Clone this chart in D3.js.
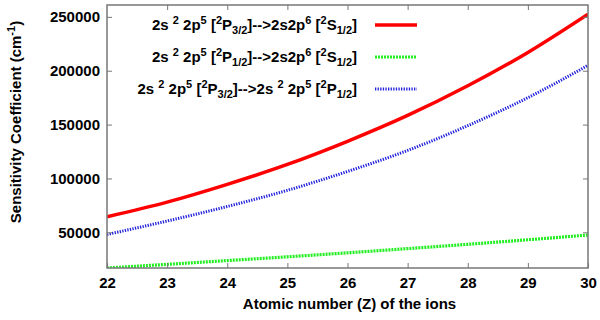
<!DOCTYPE html>
<html>
<head>
<meta charset="utf-8">
<script src="https://d3js.org/d3.v7.min.js"></script>
<style>
body { margin: 0; background: #fff; }
text { font-family: "Liberation Sans", Arial, sans-serif; font-weight: bold; fill: #000; }
</style>
</head>
<body>
<div id="chart"></div>
<script>
// atomic numbers and sensitivity coefficients (cm^-1)
var zValues = [22, 23, 24, 25, 26, 27, 28, 29, 30];
var redValues   = [64500, 78000, 94500, 113000, 134500, 158500, 186000, 217000, 252500];
var greenValues = [16900, 20300, 23800, 27300, 31000, 34900, 38900, 43100, 47500];
var blueValues  = [48000, 60500, 74000, 89000, 106500, 126000, 149000, 175000, 205000];
var xTicks = [22, 23, 24, 25, 26, 27, 28, 29, 30];
var yTicks = [50000, 100000, 150000, 200000, 250000];

// legend labels as pieces: t = normal, sup = superscript, sub = subscript
var labelRed = [["t","2s "],["sup","2"],["t"," 2p"],["sup","5"],["t"," ["],["sup","2"],["t","P"],["sub","3/2"],["t","]-->2s2p"],["sup","6"],["t"," ["],["sup","2"],["t","S"],["sub","1/2"],["t","]"]];
var labelGreen = [["t","2s "],["sup","2"],["t"," 2p"],["sup","5"],["t"," ["],["sup","2"],["t","P"],["sub","1/2"],["t","]-->2s2p"],["sup","6"],["t"," ["],["sup","2"],["t","S"],["sub","1/2"],["t","]"]];
var labelBlue = [["t","2s "],["sup","2"],["t"," 2p"],["sup","5"],["t"," ["],["sup","2"],["t","P"],["sub","3/2"],["t","]-->2s "],["sup","2"],["t"," 2p"],["sup","5"],["t"," ["],["sup","2"],["t","P"],["sub","1/2"],["t","]"]];

var series = [
  {vals: redValues, label: labelRed, color: "#ff0000", width: 3.5, dash: null},
  {vals: greenValues, label: labelGreen, color: "#22ee22", width: 3.2, dash: "2,1"},
  {vals: blueValues, label: labelBlue, color: "#2020dd", width: 3, dash: "1.3,1.3"}
];

var W = 600, H = 320;
var margin = {top: 5, right: 12, bottom: 52, left: 107};
var width = W - margin.left - margin.right,
    height = H - margin.top - margin.bottom;

var svg = d3.select("#chart").append("svg")
  .attr("width", W).attr("height", H);

var x = d3.scaleLinear().domain([22, 30]).range([margin.left, margin.left + width]);
var y = d3.scaleLinear().domain([16900, 261000]).range([margin.top + height, margin.top]);

// lines
var line = d3.line()
  .x(function(d, i) { return x(zValues[i]); })
  .y(function(d) { return y(d); })
  .curve(d3.curveMonotoneX);

svg.append("clipPath").attr("id", "clip")
  .append("rect").attr("x", margin.left).attr("y", margin.top - 2)
  .attr("width", width).attr("height", height + 2);

series.forEach(function(s) {
  svg.append("path")
    .datum(s.vals)
    .attr("d", line)
    .attr("fill", "none")
    .attr("stroke", s.color)
    .attr("stroke-width", s.width)
    .attr("stroke-dasharray", s.dash)
    .attr("clip-path", "url(#clip)");
});

// axes (mirrored ticks, pointing inward)
var gray = "#777";
function styleAxis(g) {
  g.select(".domain").remove();
  g.selectAll(".tick line").attr("stroke", gray).attr("stroke-width", 1);
  g.selectAll(".tick text").style("font-size", "15px").attr("fill", "#000");
}
svg.append("g").attr("transform", "translate(0," + (margin.top + height) + ")")
  .call(d3.axisBottom(x).tickValues(xTicks).tickSize(-5).tickPadding(9))
  .call(styleAxis);
svg.append("g").attr("transform", "translate(0," + margin.top + ")")
  .call(d3.axisTop(x).tickValues(xTicks.slice(1, -1)).tickSize(-5).tickFormat(""))
  .call(styleAxis);
svg.append("g").attr("transform", "translate(" + margin.left + ",0)")
  .call(d3.axisLeft(y).tickValues(yTicks).tickSize(-5).tickPadding(7).tickFormat(d3.format("d")))
  .call(styleAxis);
svg.append("g").attr("transform", "translate(" + (margin.left + width) + ",0)")
  .call(d3.axisRight(y).tickValues(yTicks).tickSize(-5).tickFormat(""))
  .call(styleAxis);

svg.append("rect")
  .attr("x", margin.left).attr("y", margin.top)
  .attr("width", width).attr("height", height)
  .attr("fill", "none").attr("stroke", gray).attr("stroke-width", 1.5);

// axis titles
svg.append("text")
  .attr("x", margin.left + width / 2 + 2).attr("y", 309)
  .attr("text-anchor", "middle").style("font-size", "15px")
  .text("Atomic number (Z) of the ions");

var yt = svg.append("text")
  .attr("transform", "translate(21,122) rotate(-90)")
  .attr("text-anchor", "middle").style("font-size", "15px");
yt.append("tspan").text("Sensitivity Coefficient (cm");
yt.append("tspan").attr("dy", -6).style("font-size", "11px").text("-1");
yt.append("tspan").attr("dy", 6).text(")");

// legend
function richText(g, parts, xEnd, yBase) {
  var t = g.append("text").attr("x", xEnd).attr("y", yBase)
    .attr("text-anchor", "end").style("font-size", "15px");
  var shift = 0;
  parts.forEach(function(p) {
    var target = p[0] === "sup" ? -6 : p[0] === "sub" ? 4 : 0;
    t.append("tspan")
      .attr("dy", target - shift)
      .style("font-size", p[0] === "t" ? "15px" : "11px")
      .text(p[1]);
    shift = target;
  });
}
var legendRows = [25, 57, 89];
var lg = svg.append("g");
series.forEach(function(s, i) {
  richText(lg, s.label, 357, legendRows[i] + 5);
  lg.append("line")
    .attr("x1", 375).attr("x2", 417)
    .attr("y1", legendRows[i]).attr("y2", legendRows[i])
    .attr("stroke", s.color).attr("stroke-width", s.width)
    .attr("stroke-dasharray", s.dash);
});
</script>
</body>
</html>
